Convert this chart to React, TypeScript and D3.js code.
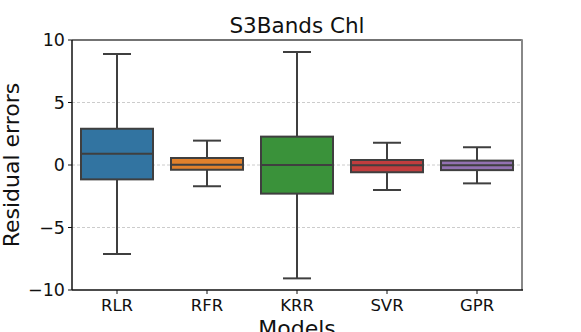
import React from "react";
import * as d3 from "d3";

const models = ["RLR", "RFR", "KRR", "SVR", "GPR"];
const whiskerLow = [-7.12, -1.7, -9.07, -2.0, -1.47];
const q1 = [-1.15, -0.38, -2.29, -0.58, -0.41];
const median = [0.9, 0.02, 0.0, -0.02, -0.02];
const q3 = [2.9, 0.56, 2.27, 0.4, 0.35];
const whiskerHigh = [8.88, 1.95, 9.04, 1.78, 1.42];
const colors = ["#3274a1", "#e1812c", "#3a923a", "#c03d3e", "#9372b2"];
const yTicks = [-10, -5, 0, 5, 10];
const gridTicks = [-5, 0, 5];

export default function App() {
  const W = 581, H = 332;
  const left = 72, right = 522, top = 40, bottom = 290;
  const x = d3.scaleBand().domain(models).range([left, right]).paddingInner(0).paddingOuter(0);
  const y = d3.scaleLinear().domain([-10, 10]).range([bottom, top]);
  const boxW = x.bandwidth() * 0.8;
  const capW = 28;
  const lc = "#3f3f3f";
  const font = "DejaVu Sans, sans-serif";
  return (
    <svg width={W} height={H} style={{ position: "absolute", left: 0, top: 0 }} fontFamily={font}>
      <rect x={0} y={0} width={W} height={H} fill="white" />
      {gridTicks.map((t) => (
        <line key={t} x1={left} x2={right} y1={y(t)} y2={y(t)} stroke="#cccccc" strokeWidth={1} strokeDasharray="3,2" />
      ))}
      {models.map((m, i) => {
        const cx = x(m)! + x.bandwidth() / 2;
        return (
          <g key={m}>
            <line x1={cx} x2={cx} y1={y(q3[i])} y2={y(whiskerHigh[i])} stroke={lc} strokeWidth={2} />
            <line x1={cx} x2={cx} y1={y(q1[i])} y2={y(whiskerLow[i])} stroke={lc} strokeWidth={2} />
            <line x1={cx - capW / 2} x2={cx + capW / 2} y1={y(whiskerHigh[i])} y2={y(whiskerHigh[i])} stroke={lc} strokeWidth={2} />
            <line x1={cx - capW / 2} x2={cx + capW / 2} y1={y(whiskerLow[i])} y2={y(whiskerLow[i])} stroke={lc} strokeWidth={2} />
            <rect x={cx - boxW / 2} y={y(q3[i])} width={boxW} height={y(q1[i]) - y(q3[i])} fill={colors[i]} stroke={lc} strokeWidth={2} />
            <line x1={cx - boxW / 2} x2={cx + boxW / 2} y1={y(median[i])} y2={y(median[i])} stroke={lc} strokeWidth={2} />
          </g>
        );
      })}
      {/* spines */}
      <line x1={left} x2={right} y1={top} y2={top} stroke="#444" strokeWidth={1.5} />
      <line x1={right} x2={right} y1={top - 0.75} y2={bottom} stroke="#888" strokeWidth={2} />
      <line x1={left} x2={left} y1={top} y2={bottom} stroke="#111" strokeWidth={1.5} />
      <line x1={left} x2={right + 1} y1={bottom} y2={bottom} stroke="#111" strokeWidth={1.5} />
      {yTicks.map((t) => (
        <g key={t}>
          <line x1={left - 4} x2={left} y1={y(t)} y2={y(t)} stroke="#111" strokeWidth={1} />
          <text x={left - 7} y={y(t)} dy="0.36em" textAnchor="end" fontSize={17.5} fill="#111">
            {t < 0 ? "\u2212" + Math.abs(t) : t}
          </text>
        </g>
      ))}
      {models.map((m) => {
        const cx = x(m)! + x.bandwidth() / 2;
        return (
          <g key={m}>
            <line x1={cx} x2={cx} y1={bottom} y2={bottom + 4} stroke="#111" strokeWidth={1} />
            <text x={cx} y={bottom + 21} textAnchor="middle" fontSize={16.5} fill="#111">{m}</text>
          </g>
        );
      })}
      <text x={(left + right) / 2} y={33} textAnchor="middle" fontSize={21.5} fill="#111">S3Bands Chl</text>
      <text x={(left + right) / 2} y={336} textAnchor="middle" fontSize={22} fill="#111">Models</text>
      <text transform={`translate(19,${(top + bottom) / 2}) rotate(-90)`} textAnchor="middle" fontSize={22} fill="#111">Residual errors</text>
    </svg>
  );
}
